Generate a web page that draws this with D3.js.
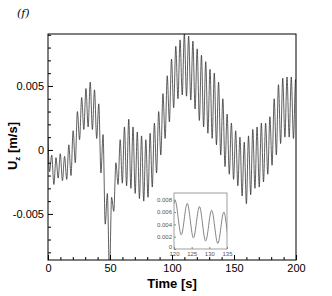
<!DOCTYPE html>
<html><head><meta charset="utf-8">
<script src="https://cdn.jsdelivr.net/npm/d3@7"></script>
<style>body{margin:0;background:#fff}svg{display:block}</style>
</head><body>
<svg id="c" width="332" height="296"></svg>
<script>
// Local extrema of Uz(t)
const peakT = [3.0, 6.45, 9.9, 13.35, 16.8, 20.25, 23.7, 27.15, 30.6, 34.05, 37.5, 40.95, 44.4, 47.85, 51.3, 54.75, 58.2, 61.65, 65.1, 68.55, 72.0, 75.45, 78.9, 82.35, 85.8, 89.25, 92.7, 96.15, 99.6, 103.05, 106.5, 109.95, 113.4, 116.85, 120.3, 123.75, 127.2, 130.65, 134.1, 137.55, 141.0, 144.45, 147.9, 151.35, 154.8, 158.25, 161.7, 165.15, 168.6, 172.05, 175.5, 178.95, 182.4, 185.85, 189.3, 192.75, 196.2, 199.65];
const peakV = [-0.0004, -0.0006, -0.0003, -0.0005, 0.0004, 0.0015, 0.0030, 0.0041, 0.0048, 0.0053, 0.0047, 0.0036, 0.0012, -0.0034, -0.0037, -0.0010, 0.0008, 0.0018, 0.0024, 0.0018, 0.0014, 0.0011, 0.0008, 0.0013, 0.0021, 0.0030, 0.0044, 0.0058, 0.0071, 0.0081, 0.0086, 0.0091, 0.0089, 0.0085, 0.0079, 0.0074, 0.0069, 0.0063, 0.0060, 0.0053, 0.0040, 0.0028, 0.0021, 0.0015, 0.0010, 0.0006, 0.0011, 0.0016, 0.0018, 0.0021, 0.0021, 0.0026, 0.0040, 0.0051, 0.0056, 0.0057, 0.0057, 0.0055];
const troughT = [1.25, 4.75, 8.2, 11.65, 15.1, 18.55, 22.0, 25.45, 28.9, 32.35, 35.8, 39.25, 42.7, 46.15, 49.6, 53.05, 56.5, 59.95, 63.4, 66.85, 70.3, 73.75, 77.2, 80.65, 84.1, 87.55, 91.0, 94.45, 97.9, 101.35, 104.8, 108.25, 111.7, 115.15, 118.6, 122.05, 125.5, 128.95, 132.4, 135.85, 139.3, 142.75, 146.2, 149.65, 153.1, 156.55, 160.0, 163.45, 166.9, 170.35, 173.8, 177.25, 180.7, 184.15, 187.6, 191.05, 194.5, 197.95];
const troughV = [-0.0017, -0.0027, -0.0022, -0.0024, -0.0023, -0.0020, -0.0010, 0.0008, 0.0016, 0.0018, 0.0016, 0.0009, -0.0018, -0.0058, -0.0098, -0.0048, -0.0027, -0.0026, -0.0028, -0.0030, -0.0034, -0.0038, -0.0040, -0.0037, -0.0029, -0.0018, -0.0004, 0.0009, 0.0022, 0.0033, 0.0040, 0.0043, 0.0042, 0.0039, 0.0032, 0.0023, 0.0018, 0.0013, 0.0009, 0.0004, -0.0004, -0.0013, -0.0019, -0.0023, -0.0028, -0.0036, -0.0042, -0.0035, -0.0030, -0.0029, -0.0025, -0.0019, -0.0012, -0.0004, 0.0005, 0.0010, 0.0010, 0.0009];
const endT = [0, 200];
const endV = [0.0010, 0.0053];

const xTicks = [0, 50, 100, 150, 200];
const yTicks = [-0.005, 0, 0.005];
const yTickLabels = ["-0.005", "0", "0.005"];
const insetXTicks = [120, 125, 130, 135];
const insetYTicks = [0, 0.002, 0.004, 0.006, 0.008];

const svg = d3.select("#c");
const L = 48, R = 296, T = 34, B = 260;
const x = d3.scaleLinear().domain([0, 200]).range([L, R]);
const y = d3.scaleLinear().domain([-0.0086, 0.00906]).range([B, T]);

const pts = [];
peakT.forEach((t, i) => pts.push([t, peakV[i]]));
troughT.forEach((t, i) => pts.push([t, troughV[i]]));
endT.forEach((t, i) => pts.push([t, endV[i]]));
pts.sort((a, b) => a[0] - b[0]);

svg.append("defs").append("clipPath").attr("id", "clipMain")
  .append("rect").attr("x", L).attr("y", T).attr("width", R - L).attr("height", B - T);

const line = d3.line().x(d => x(d[0])).y(d => y(d[1])).curve(d3.curveMonotoneX);
svg.append("path").datum(pts).attr("clip-path", "url(#clipMain)")
  .attr("d", line).attr("fill", "none").attr("stroke", "#2a2a2a").attr("stroke-width", 0.75);

// axes with inward ticks
const font = "Liberation Sans, Arial, sans-serif";
const xAx = svg.append("g").attr("transform", `translate(0,${B})`)
  .call(d3.axisBottom(x).tickValues(d3.range(0, 201, 10)).tickSize(-3).tickFormat(""));
xAx.selectAll(".tick line").filter(d => d % 50 === 0).attr("y2", -5);
const xAx2 = svg.append("g").attr("transform", `translate(0,${B})`)
  .call(d3.axisBottom(x).tickValues(xTicks).tickSize(0).tickPadding(4).tickFormat(d3.format("d")));
const yAx = svg.append("g").attr("transform", `translate(${L},0)`)
  .call(d3.axisLeft(y).tickValues(d3.range(-8, 10).map(v => v * 0.001)).tickSize(-3).tickFormat(""));
yAx.selectAll(".tick line").filter(d => Math.abs(Math.round(d * 1000)) % 5 === 0).attr("x2", 5);
const yAx2 = svg.append("g").attr("transform", `translate(${L},0)`)
  .call(d3.axisLeft(y).tickValues(yTicks).tickSize(0).tickPadding(4).tickFormat((d, i) => yTickLabels[i]));
[xAx, xAx2, yAx, yAx2].forEach(g => { g.select(".domain").remove(); g.selectAll(".tick line").attr("stroke", "#000"); });
[xAx2, yAx2].forEach(g => g.selectAll("text").attr("font-family", font).attr("font-size", 11).attr("fill", "#000"));

svg.append("rect").attr("x", L).attr("y", T).attr("width", R - L).attr("height", B - T)
  .attr("fill", "none").attr("stroke", "#000").attr("stroke-width", 1);

// titles
svg.append("text").attr("x", 172).attr("y", 288).attr("text-anchor", "middle")
  .attr("font-family", font).attr("font-weight", "bold").attr("font-size", 13).text("Time [s]");
const yt = svg.append("text").attr("transform", "translate(17,146) rotate(-90)").attr("text-anchor", "middle")
  .attr("font-family", font).attr("font-weight", "bold").attr("font-size", 13);
yt.append("tspan").text("U");
yt.append("tspan").attr("font-size", 8).attr("dy", 3).text("z");
yt.append("tspan").attr("dy", -3).text(" [m/s]");
svg.append("text").attr("x", 17).attr("y", 17).attr("font-family", "DejaVu Serif, Liberation Serif, serif")
  .attr("font-style", "italic").attr("font-size", 11).text("(f)");

// inset
const iL = 174, iR = 227, iT = 193, iB = 249;
const ix = d3.scaleLinear().domain([120, 135]).range([iL, iR]);
const iy = d3.scaleLinear().domain([0, 0.0091]).range([iB, iT]);
svg.append("rect").attr("x", iL).attr("y", iT).attr("width", iR - iL).attr("height", iB - iT).attr("fill", "#fff");
svg.select("defs").append("clipPath").attr("id", "clipInset")
  .append("rect").attr("x", iL).attr("y", iT).attr("width", iR - iL).attr("height", iB - iT);
const iline = d3.line().x(d => ix(d[0])).y(d => iy(d[1])).curve(d3.curveMonotoneX);
svg.append("path").datum(pts.filter(d => d[0] > 115 && d[0] < 140)).attr("clip-path", "url(#clipInset)")
  .attr("d", iline).attr("fill", "none").attr("stroke", "#777").attr("stroke-width", 0.9);
const ixAx = svg.append("g").attr("transform", `translate(0,${iB})`)
  .call(d3.axisBottom(ix).tickValues(insetXTicks).tickSize(-2).tickPadding(3).tickFormat(d3.format("d")));
const iyAx = svg.append("g").attr("transform", `translate(${iL},0)`)
  .call(d3.axisLeft(iy).tickValues(insetYTicks).tickSize(-2).tickPadding(2).tickFormat(d => d === 0 ? "0" : d3.format(".3f")(d)));
[ixAx, iyAx].forEach(g => {
  g.select(".domain").remove();
  g.selectAll(".tick line").attr("stroke", "#888");
  g.selectAll("text").attr("font-family", font).attr("font-size", 6).attr("fill", "#555");
});
iyAx.selectAll(".tick text").filter(d => d === 0).attr("dy", "-0.1em");
svg.append("rect").attr("x", iL).attr("y", iT).attr("width", iR - iL).attr("height", iB - iT)
  .attr("fill", "none").attr("stroke", "#888").attr("stroke-width", 0.8);
</script>
</body></html>
